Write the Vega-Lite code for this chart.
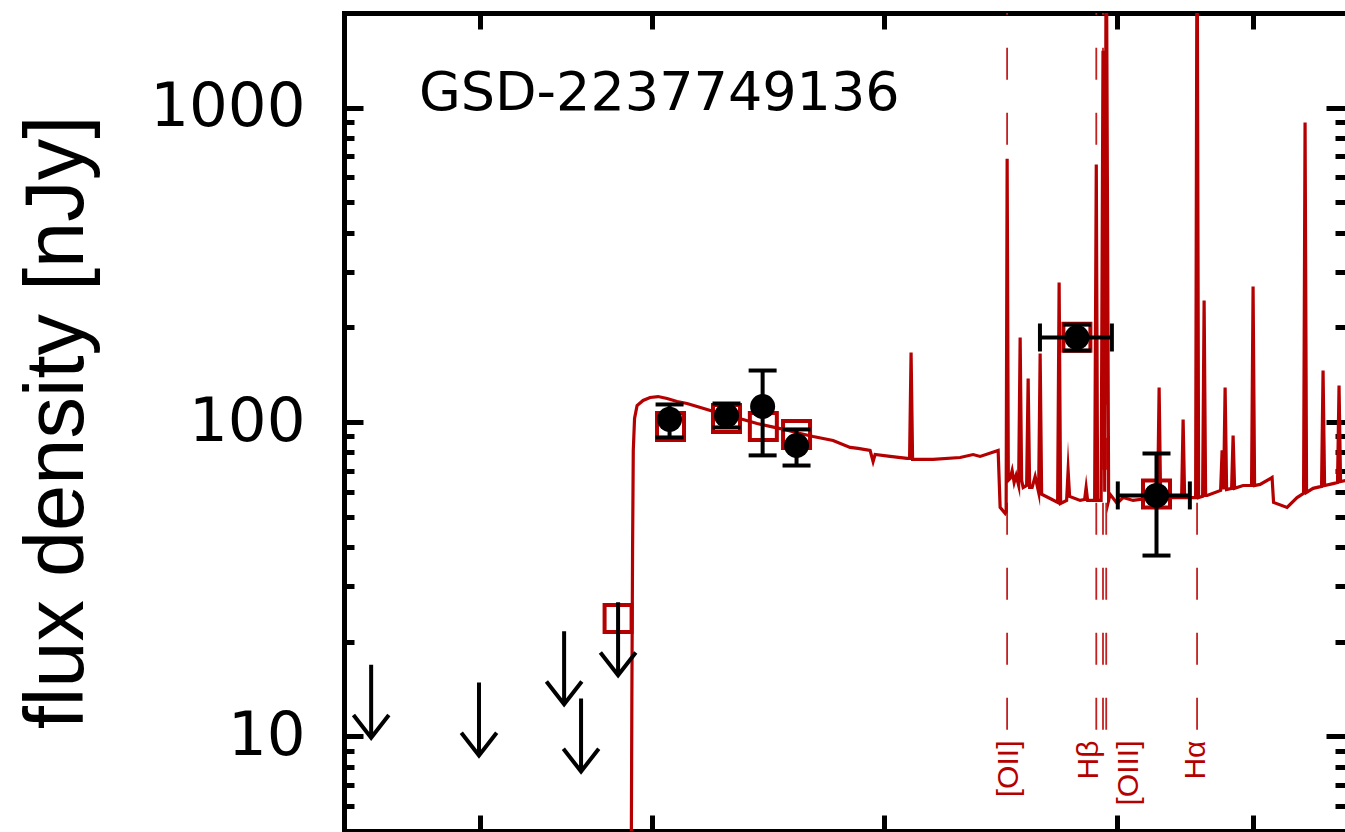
{
  "$schema": "https://vega.github.io/schema/vega-lite/v6.json",
  "width": 1001,
  "height": 818,
  "autosize": "none",
  "padding": {"left": 344, "top": 13, "right": 0, "bottom": 1},
  "background": "white",
  "config": {
    "view": {"stroke": null},
    "font": "DejaVu Sans",
    "axis": {"domainColor": "black", "tickColor": "black", "grid": false, "domainCap": "square", "zindex": 2}
  },
  "resolve": {"axis": {"x": "independent", "y": "independent"}},
  "datasets": {
    "spec": [
      {"wave": 0.9392, "flux": 1}, {"wave": 0.9429, "flux": 13.0}, {"wave": 0.9449, "flux": 39.0}, {"wave": 0.9469, "flux": 81.2},
      {"wave": 0.9505, "flux": 102.6}, {"wave": 0.9577, "flux": 112.8}, {"wave": 0.9749, "flux": 117.1}, {"wave": 0.9955, "flux": 119.7},
      {"wave": 1.0195, "flux": 120.5}, {"wave": 1.0472, "flux": 118.8}, {"wave": 1.0788, "flux": 116.2}, {"wave": 1.1114, "flux": 114.5},
      {"wave": 1.145, "flux": 112.0}, {"wave": 1.1797, "flux": 109.6}, {"wave": 1.2263, "flux": 106.4}, {"wave": 1.3133, "flux": 101.8},
      {"wave": 1.3693, "flux": 98.9}, {"wave": 1.4666, "flux": 95.3}, {"wave": 1.5565, "flux": 91.9}, {"wave": 1.618, "flux": 89.9},
      {"wave": 1.7172, "flux": 87.3}, {"wave": 1.8064, "flux": 83.0}, {"wave": 1.8499, "flux": 82.4}, {"wave": 1.9172, "flux": 81.2},
      {"wave": 1.9344, "flux": 74.9}, {"wave": 1.946, "flux": 78.8}, {"wave": 2.0349, "flux": 77.7}, {"wave": 2.1406, "flux": 76.6},
      {"wave": 2.1566, "flux": 76.6}, {"wave": 2.1662, "flux": 166.3}, {"wave": 2.1759, "flux": 76.0}, {"wave": 2.3129, "flux": 76.0},
      {"wave": 2.5069, "flux": 77.1}, {"wave": 2.6059, "flux": 78.8}, {"wave": 2.6609, "flux": 77.7}, {"wave": 2.8076, "flux": 81.2},
      {"wave": 2.8243, "flux": 53.5}, {"wave": 2.8667, "flux": 51.2}, {"wave": 2.8753, "flux": 51.9}, {"wave": 2.8839, "flux": 688},
      {"wave": 2.8942, "flux": 65.2}, {"wave": 2.9098, "flux": 66.1}, {"wave": 2.9272, "flux": 70.1}, {"wave": 2.9447, "flux": 64.2},
      {"wave": 2.9623, "flux": 67.6}, {"wave": 2.9844, "flux": 62.8}, {"wave": 2.9978, "flux": 185.7}, {"wave": 3.0112, "flux": 65.2},
      {"wave": 3.0247, "flux": 61.9}, {"wave": 3.0564, "flux": 62.8}, {"wave": 3.0701, "flux": 137.5}, {"wave": 3.0838, "flux": 61.9},
      {"wave": 3.1068, "flux": 61.9}, {"wave": 3.1348, "flux": 67.1}, {"wave": 3.1676, "flux": 59.7}, {"wave": 3.1818, "flux": 165.1},
      {"wave": 3.196, "flux": 58.9}, {"wave": 3.2779, "flux": 57.1}, {"wave": 3.3519, "flux": 55.5}, {"wave": 3.3669, "flux": 277.7},
      {"wave": 3.382, "flux": 55.1}, {"wave": 3.4429, "flux": 56.3}, {"wave": 3.4583, "flux": 70.1}, {"wave": 3.4738, "flux": 58.0},
      {"wave": 3.5843, "flux": 56.3}, {"wave": 3.6327, "flux": 56.7}, {"wave": 3.649, "flux": 61.9}, {"wave": 3.6653, "flux": 56.3},
      {"wave": 3.7426, "flux": 56.3}, {"wave": 3.761, "flux": 658.9}, {"wave": 3.7761, "flux": 56.3}, {"wave": 3.8156, "flux": 56.3},
      {"wave": 3.837, "flux": 1518}, {"wave": 3.8568, "flux": 60}, {"wave": 3.874, "flux": 5000}, {"wave": 3.9019, "flux": 56.3},
      {"wave": 3.9193, "flux": 58.9}, {"wave": 4.0019, "flux": 55.1}, {"wave": 4.0741, "flux": 57.5}, {"wave": 4.1972, "flux": 56.3},
      {"wave": 4.376, "flux": 57.1}, {"wave": 4.515, "flux": 57.1}, {"wave": 4.5352, "flux": 128.7}, {"wave": 4.5555, "flux": 57.1},
      {"wave": 4.6446, "flux": 57.5}, {"wave": 4.8497, "flux": 57.5}, {"wave": 4.8713, "flux": 101.8}, {"wave": 4.8931, "flux": 57.5},
      {"wave": 5.0037, "flux": 57.5}, {"wave": 5.0562, "flux": 57.5}, {"wave": 5.078, "flux": 5000}, {"wave": 5.1015, "flux": 57.5},
      {"wave": 5.1626, "flux": 58.0}, {"wave": 5.1857, "flux": 243.4}, {"wave": 5.2089, "flux": 58.4}, {"wave": 5.2322, "flux": 58.4},
      {"wave": 5.4469, "flux": 60.6}, {"wave": 5.4713, "flux": 81.2}, {"wave": 5.4958, "flux": 61.0}, {"wave": 5.5204, "flux": 128.7},
      {"wave": 5.5451, "flux": 61.0}, {"wave": 5.6283, "flux": 61.5}, {"wave": 5.6535, "flux": 90.6}, {"wave": 5.6788, "flux": 61.5},
      {"wave": 5.824, "flux": 62.8}, {"wave": 5.9732, "flux": 62.8}, {"wave": 6.0, "flux": 269.7}, {"wave": 6.0269, "flux": 62.8},
      {"wave": 6.1265, "flux": 63.3}, {"wave": 6.3493, "flux": 66.6}, {"wave": 6.3777, "flux": 55.5}, {"wave": 6.6394, "flux": 53.5},
      {"wave": 6.8401, "flux": 57.5}, {"wave": 6.9739, "flux": 59.3}, {"wave": 7.0051, "flux": 896}, {"wave": 7.0364, "flux": 59.7},
      {"wave": 7.1742, "flux": 61.5}, {"wave": 7.358, "flux": 62.4}, {"wave": 7.3909, "flux": 145.8}, {"wave": 7.424, "flux": 62.8},
      {"wave": 7.614, "flux": 63.7}, {"wave": 7.7166, "flux": 64.2}, {"wave": 7.7512, "flux": 130.6}, {"wave": 7.7858, "flux": 64.7},
      {"wave": 8.0092, "flux": 65.6}
    ],
    "phot": [
      {"band": "F105W", "wave": 1.055, "flux": 102, "flo": 89.3, "fhi": 113.7},
      {"band": "F125W", "wave": 1.25, "flux": 104.9, "flo": 96.1, "fhi": 114.5},
      {"band": "F140W", "wave": 1.392, "flux": 112, "flo": 78.3, "fhi": 145.8},
      {"band": "F160W", "wave": 1.54, "flux": 84.2, "flo": 72.7, "fhi": 94.7},
      {"band": "IRAC1", "wave": 3.55, "flux": 185.7, "flo": 168.8, "fhi": 204, "wlo": 3.18, "whi": 3.94},
      {"band": "IRAC2", "wave": 4.5, "flux": 58.4, "flo": 37.6, "fhi": 79.4, "wlo": 4.01, "whi": 4.97}
    ],
    "model": [
      {"band": "F090W", "wave": 0.905, "flux": 23.7},
      {"band": "F105W", "wave": 1.058, "flux": 96.8},
      {"band": "F125W", "wave": 1.25, "flux": 102.6},
      {"band": "F140W", "wave": 1.395, "flux": 96.8},
      {"band": "F160W", "wave": 1.54, "flux": 91.3},
      {"band": "IRAC1", "wave": 3.55, "flux": 186},
      {"band": "IRAC2", "wave": 4.5, "flux": 59}
    ],
    "ulim": [
      {"band": "F435W", "wave": 0.4337, "flux": 16.9},
      {"band": "F606W", "wave": 0.598, "flux": 14.85},
      {"band": "F775W", "wave": 0.7706, "flux": 21.6},
      {"band": "F814W", "wave": 0.8105, "flux": 13.2},
      {"band": "F090W", "wave": 0.905, "flux": 26.7}
    ],
    "lines": [
      {"line": "[OII]", "wave": 2.8836},
      {"line": "Hβ", "wave": 3.761},
      {"line": "[OIII]4959", "wave": 3.837},
      {"line": "[OIII]5007", "wave": 3.874},
      {"line": "Hα", "wave": 5.078}
    ],
    "linelabels": [
      {"label": "[OII]", "wave": 2.9},
      {"label": "Hβ", "wave": 3.68},
      {"label": "[OIII]", "wave": 4.15},
      {"label": "Hα", "wave": 5.06}
    ],
    "name": [{"name": "GSD-2237749136"}]
  },
  "layer": [
    {
      "data": {"name": "lines"},
      "mark": {"type": "rule", "color": "#c42020", "strokeWidth": 1.8, "strokeDash": [32, 33]},
      "encoding": {
        "x": {"field": "wave", "type": "quantitative", "scale": {"type": "log", "domain": [0.4, 7.89], "nice": false, "zero": false}, "axis": null},
        "y": {"datum": 10.5, "type": "quantitative", "scale": {"type": "log", "domain": [5, 2000], "nice": false, "zero": false}, "axis": null},
        "y2": {"datum": 2000}
      }
    },
    {
      "data": {"name": "spec"},
      "mark": {"type": "line", "color": "#b40000", "strokeWidth": 3.2, "clip": true, "strokeJoin": "miter", "strokeMiterLimit": 20},
      "encoding": {
        "x": {"field": "wave", "type": "quantitative",
          "axis": {"orient": "bottom", "values": [0.6, 1, 2, 4, 6], "labels": false, "title": null, "tickSize": -16, "tickWidth": 5, "domainWidth": 5}},
        "y": {"field": "flux", "type": "quantitative",
          "axis": {"orient": "left", "values": [10, 100, 1000], "format": "d", "tickSize": -19, "tickWidth": 5, "domainWidth": 5,
            "labelFont": "DejaVu Sans", "labelFontSize": 61, "labelPadding": 58, "labelColor": "black",
            "title": "flux density [nJy]", "titleFont": "Liberation Sans", "titleFontSize": 83, "titleFontWeight": "normal", "titleColor": "black", "titlePadding": 50}}
      }
    },
    {
      "data": {"name": "model"},
      "mark": {"type": "point", "shape": "square", "filled": false, "color": "#b40000", "strokeWidth": 4, "size": 729, "opacity": 1},
      "encoding": {
        "x": {"field": "wave", "type": "quantitative",
          "axis": {"orient": "top", "values": [0.6, 1, 2, 4, 6], "labels": false, "title": null, "tickSize": -16, "tickWidth": 5, "domainWidth": 5}},
        "y": {"field": "flux", "type": "quantitative",
          "axis": {"orient": "right", "values": [10, 100, 1000], "labels": false, "title": null, "tickSize": -19, "tickWidth": 5, "domain": false}}
      }
    },
    {
      "data": {"name": "phot"},
      "mark": {"type": "rule", "color": "black", "strokeWidth": 4},
      "encoding": {
        "x": {"field": "wave", "type": "quantitative", "axis": null},
        "y": {"field": "flo", "type": "quantitative",
          "axis": {"orient": "left", "values": [6, 7, 8, 9, 20, 30, 40, 50, 60, 70, 80, 90, 200, 300, 400, 500, 600, 700, 800, 900], "labels": false, "title": null, "tickSize": -10, "tickWidth": 5, "domain": false}},
        "y2": {"field": "fhi"}
      }
    },
    {
      "data": {"name": "phot"},
      "transform": [{"filter": "datum.wlo != null"}],
      "mark": {"type": "rule", "color": "black", "strokeWidth": 4},
      "encoding": {
        "x": {"field": "wlo", "type": "quantitative", "axis": null},
        "x2": {"field": "whi"},
        "y": {"field": "flux", "type": "quantitative",
          "axis": {"orient": "right", "values": [6, 7, 8, 9, 20, 30, 40, 50, 60, 70, 80, 90, 200, 300, 400, 500, 600, 700, 800, 900], "labels": false, "title": null, "tickSize": -10, "tickWidth": 5, "domain": false}}
      }
    },
    {
      "data": {"name": "phot"},
      "mark": {"type": "point", "shape": "M-1,0L1,0", "filled": false, "color": "black", "strokeWidth": 4, "size": 784, "opacity": 1},
      "encoding": {
        "x": {"field": "wave", "type": "quantitative", "axis": null},
        "y": {"field": "flo", "type": "quantitative", "axis": null}
      }
    },
    {
      "data": {"name": "phot"},
      "mark": {"type": "point", "shape": "M-1,0L1,0", "filled": false, "color": "black", "strokeWidth": 4, "size": 784, "opacity": 1},
      "encoding": {
        "x": {"field": "wave", "type": "quantitative", "axis": null},
        "y": {"field": "fhi", "type": "quantitative", "axis": null}
      }
    },
    {
      "data": {"name": "phot"},
      "transform": [{"filter": "datum.wlo != null"}],
      "mark": {"type": "point", "shape": "M0,-1L0,1", "filled": false, "color": "black", "strokeWidth": 4, "size": 784, "opacity": 1},
      "encoding": {
        "x": {"field": "wlo", "type": "quantitative", "axis": null},
        "y": {"field": "flux", "type": "quantitative", "axis": null}
      }
    },
    {
      "data": {"name": "phot"},
      "transform": [{"filter": "datum.whi != null"}],
      "mark": {"type": "point", "shape": "M0,-1L0,1", "filled": false, "color": "black", "strokeWidth": 4, "size": 784, "opacity": 1},
      "encoding": {
        "x": {"field": "whi", "type": "quantitative", "axis": null},
        "y": {"field": "flux", "type": "quantitative", "axis": null}
      }
    },
    {
      "data": {"name": "phot"},
      "mark": {"type": "point", "shape": "circle", "filled": true, "color": "black", "size": 625, "opacity": 1},
      "encoding": {
        "x": {"field": "wave", "type": "quantitative", "axis": null},
        "y": {"field": "flux", "type": "quantitative", "axis": null}
      }
    },
    {
      "data": {"name": "ulim"},
      "mark": {"type": "point", "shape": "M0,0L0,2M-0.485,1.378L0,2L0.485,1.378", "filled": false, "color": "black", "strokeWidth": 4, "size": 5329, "opacity": 1, "strokeJoin": "miter"},
      "encoding": {
        "x": {"field": "wave", "type": "quantitative", "axis": null},
        "y": {"field": "flux", "type": "quantitative", "axis": null}
      }
    },
    {
      "data": {"name": "linelabels"},
      "mark": {"type": "text", "angle": 270, "align": "right", "baseline": "middle", "font": "Liberation Sans", "fontSize": 30, "color": "#b40000"},
      "encoding": {
        "x": {"field": "wave", "type": "quantitative", "axis": null},
        "y": {"datum": 9.7, "type": "quantitative", "axis": null},
        "text": {"field": "label"}
      }
    },
    {
      "data": {"name": "name"},
      "mark": {"type": "text", "align": "left", "baseline": "alphabetic", "font": "DejaVu Sans", "fontSize": 54, "color": "black"},
      "encoding": {
        "x": {"datum": 0.5, "type": "quantitative", "axis": null},
        "y": {"datum": 980, "type": "quantitative", "axis": null},
        "text": {"field": "name"}
      }
    }
  ]
}
